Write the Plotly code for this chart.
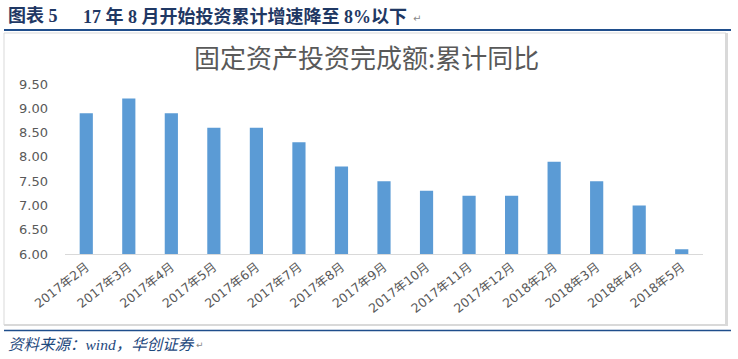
import plotly.graph_objects as go

categories = ["2017年2月", "2017年3月", "2017年4月", "2017年5月", "2017年6月", "2017年7月",
              "2017年8月", "2017年9月", "2017年10月", "2017年11月", "2017年12月",
              "2018年2月", "2018年3月", "2018年4月", "2018年5月"]
values = [8.9, 9.2, 8.9, 8.6, 8.6, 8.3, 7.8, 7.5, 7.3, 7.2, 7.2, 7.9, 7.5, 7.0, 6.1]
y_ticks = [6.0, 6.5, 7.0, 7.5, 8.0, 8.5, 9.0, 9.5]
y_tick_labels = ["6.00", "6.50", "7.00", "7.50", "8.00", "8.50", "9.00", "9.50"]

W, H = 738, 359
L, R, T, B = 65, 35, 84, 105
PW, PH = W - L - R, H - T - B


def px(x):
    return (x - L) / PW


def py(y):
    return (H - B - y) / PH


fig = go.Figure(go.Bar(
    x=categories, y=values,
    marker=dict(color="#5B9BD5", line=dict(width=0)),
))

NAVY = "#1F3864"
GRID = "#D9D9D9"

shapes = [
    dict(type="line", xref="paper", yref="paper", x0=px(4), x1=px(731), y0=py(30), y1=py(30),
         line=dict(color="#1F4E8C", width=2)),
    dict(type="rect", xref="paper", yref="paper", x0=px(4), x1=px(726), y0=py(33), y1=py(325),
         line=dict(color=GRID, width=1)),
    dict(type="line", xref="paper", yref="paper", x0=px(726.5), x1=px(726.5), y0=py(33), y1=py(326),
         line=dict(color=GRID, width=3)),
    dict(type="line", xref="paper", yref="paper", x0=px(4), x1=px(727), y0=py(325), y1=py(325),
         line=dict(color=GRID, width=2)),
    dict(type="line", xref="paper", yref="paper", x0=px(4), x1=px(731), y0=py(330.5), y1=py(330.5),
         line=dict(color="#1F4E8C", width=1.5)),
]

hdr_font = dict(family="Liberation Serif, Noto Sans CJK SC", size=18, color=NAVY)
annotations = [
    dict(text="<b>图表 5</b>", xref="paper", yref="paper", x=px(6), y=py(16),
         xanchor="left", yanchor="middle", showarrow=False, font=hdr_font),
    dict(text="<b>17 年 8 月开始投资累计增速降至 8%以下</b>", xref="paper", yref="paper",
         x=px(81), y=py(16), xanchor="left", yanchor="middle", showarrow=False, font=hdr_font),
    dict(text="↵", xref="paper", yref="paper", x=px(411), y=py(18), xanchor="left",
         yanchor="middle", showarrow=False, font=dict(family="DejaVu Sans", size=10, color="#888888")),
    dict(text="固定资产投资完成额:累计同比", xref="paper", yref="paper", x=px(366), y=py(57),
         xanchor="center", yanchor="middle", showarrow=False,
         font=dict(family="Noto Sans CJK SC", size=26, color="#595959")),
    dict(text="<i>资料来源：wind，华创证券</i>", xref="paper", yref="paper", x=px(6), y=py(344),
         xanchor="left", yanchor="middle", showarrow=False,
         font=dict(family="Liberation Serif, Noto Sans CJK SC", size=15.5, color="#1F497D")),
    dict(text="↵", xref="paper", yref="paper", x=px(194), y=py(345), xanchor="left",
         yanchor="middle", showarrow=False, font=dict(family="DejaVu Sans", size=9, color="#888888")),
]

fig.update_layout(
    width=W, height=H,
    margin=dict(l=L, r=R, t=T, b=B, autoexpand=False),
    paper_bgcolor="white", plot_bgcolor="white",
    showlegend=False,
    bargap=0.69,
    shapes=shapes,
    annotations=annotations,
    xaxis=dict(
        type="category", showgrid=False, zeroline=False,
        showline=True, linecolor=GRID, linewidth=1,
        ticks="", tickangle=-38,
        tickfont=dict(family="DejaVu Sans, Noto Sans CJK SC", size=12.5, color="#595959"),
    ),
    yaxis=dict(
        range=[6, 9.5], showgrid=False, zeroline=False, showline=False,
        tickmode="array", tickvals=y_ticks, ticktext=y_tick_labels,
        ticks="", ticklabelstandoff=16,
        tickfont=dict(family="DejaVu Sans", size=13, color="#595959"),
    ),
)

fig.write_html("out.html", config={"displayModeBar": False},
               post_script="document.body.style.margin='0';document.body.style.overflow='hidden';")
